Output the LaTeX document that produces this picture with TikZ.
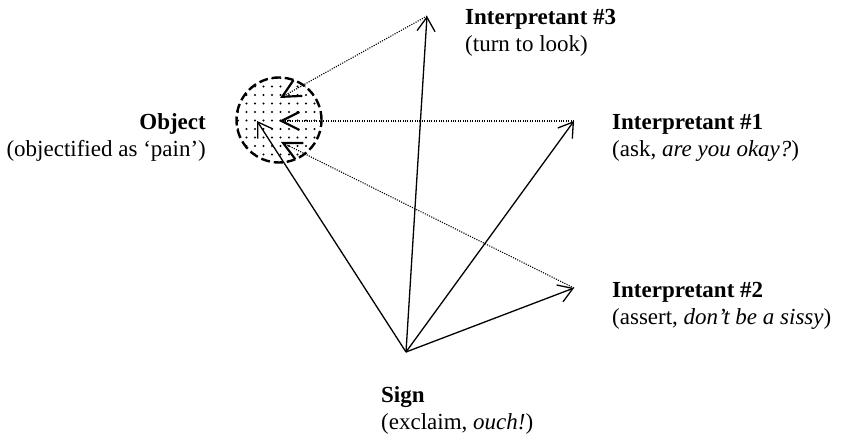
\documentclass[tikz,border=0pt]{standalone}
\usepackage{fontspec}
\setmainfont{Liberation Serif}
\usepackage{tikz}
\usetikzlibrary{arrows.meta,patterns.meta,calc}

\begin{document}
\begin{tikzpicture}[x=1pt, y=-1pt,
    lbl/.style={inner sep=0pt, font=\fontsize{23}{27}\selectfont},
    sarr/.style={-{Straight Barb[length=14pt,width=18pt]}, line width=1.3pt},
    darr/.style={line width=1.1pt, dash pattern=on 1.1pt off 1.3pt,
                 -{Straight Barb[length=18pt,width=18pt,line width=2.2pt]}},
    objc/.style={circle, draw, line width=2.4pt,
                 dash pattern=on 9pt off 4pt, minimum size=85pt,
                 pattern={Dots[distance=8.5pt,radius=1.05pt]}}]

    \useasboundingbox (0,0) rectangle (842,435);

    % object circle
    \node[objc] (obj) at (279,120) {};
    \coordinate (objS) at (257,121);
    \coordinate (obj3) at (280,98);
    \coordinate (obj1) at (279,121);
    \coordinate (obj2) at (281,142);

    % sign and interpretants
    \coordinate (sign) at (406,352);
    \coordinate (int3) at (427,16);
    \coordinate (int1) at (574,121);
    \coordinate (int2) at (574,288);

    \draw[sarr] (sign) -- (int3);
    \draw[sarr] (sign) -- (int1);
    \draw[sarr] (sign) -- (int2);
    \draw[sarr] (sign) -- (objS);

    \draw[darr] (int3) -- (obj3);
    \draw[darr] (int1) -- (obj1);
    \draw[darr] (int2) -- (obj2);

    % labels (base = last line)
    \node[lbl, anchor=base west, align=left] (int3lbl) at (465,52)
      {\textbf{Interpretant \#3}\\(turn to look)};
    \node[lbl, anchor=base west, align=left] (int1lbl) at (612,157)
      {\textbf{Interpretant \#1}\\(ask, \textit{are you okay?})};
    \node[lbl, anchor=base west, align=left] (int2lbl) at (612,324)
      {\textbf{Interpretant \#2}\\(assert, \textit{don’t be a sissy})};
    \node[lbl, anchor=base west, align=left] (signlbl) at (381,429)
      {\textbf{Sign}\\(exclaim, \textit{ouch!})};
    \node[lbl, anchor=base east, align=right] (objlbl) at (206,157)
      {\textbf{Object}\\(objectified as ‘pain’)};
\end{tikzpicture}
\end{document}
